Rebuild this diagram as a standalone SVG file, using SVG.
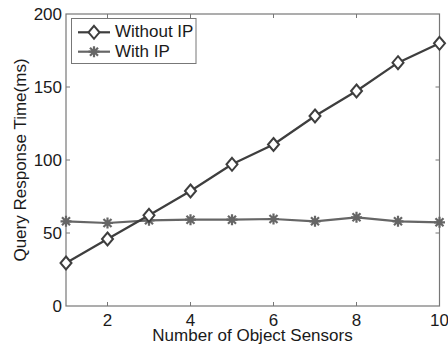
<svg xmlns="http://www.w3.org/2000/svg" width="448" height="346" viewBox="0 0 448 346">
<style>
text{font-family:"Liberation Sans",Arial,sans-serif;font-size:17px;fill:#1a1a1a}
.ax{fill:none;stroke:#777;stroke-width:1.2}
.tk{stroke:#777;stroke-width:1}
.l1{fill:none;stroke:#3e3e3e;stroke-width:2.2;stroke-linejoin:round}
.l2{fill:none;stroke:#666;stroke-width:2.2;stroke-linejoin:round}
.dm{fill:#fff;stroke:#3e3e3e;stroke-width:2}
.st{stroke:#666;stroke-width:2.2}
</style>
<defs>
<path id="dia" class="dm" d="M0,-6.5 L5.5,0 L0,6.5 L-5.5,0 Z"/>
<path id="star" class="st" d="M-5.5,0H5.5M0,-5.5V5.5M-4,-4L4,4M-4,4L4,-4"/>
</defs>
<rect x="0" y="0" width="448" height="346" fill="#fff"/>
<g id="axes">
<rect class="ax" x="66" y="14" width="373.5" height="292"/>
<g class="tk">
<path d="M107.5,306v-4M190.5,306v-4M273.5,306v-4M356.5,306v-4M107.5,14v4M190.5,14v4M273.5,14v4M356.5,14v4"/>
<path d="M66,233h4M66,160h4M66,87h4M439.5,233h-4M439.5,160h-4M439.5,87h-4"/>
</g>
</g>
<g id="ticklabels">
<text x="62" y="20" text-anchor="end">200</text>
<text x="62" y="93" text-anchor="end">150</text>
<text x="62" y="166" text-anchor="end">100</text>
<text x="62" y="239" text-anchor="end">50</text>
<text x="62" y="312" text-anchor="end">0</text>
<text x="107.5" y="326" text-anchor="middle">2</text>
<text x="190.5" y="326" text-anchor="middle">4</text>
<text x="273.5" y="326" text-anchor="middle">6</text>
<text x="356.5" y="326" text-anchor="middle">8</text>
<text x="439.5" y="326" text-anchor="middle">10</text>
</g>
<g id="axislabels">
<text x="252.5" y="341" text-anchor="middle">Number of Object Sensors</text>
<text transform="translate(26,160) rotate(-90)" text-anchor="middle">Query Response Time(ms)</text>
</g>
<g id="connectors">
<polyline id="with-ip" class="l2" points="66,221.3 107.5,223 149,220.3 190.5,219.7 232,219.7 273.5,219 315,221.3 356.5,217.3 398,221.3 439.5,222.3"/>
<polyline id="without-ip" class="l1" points="66,263 107.5,239 149,215.3 190.5,191 232,164.3 273.5,144.5 315,116 356.5,91 398,62.7 439.5,43.3"/>
</g>
<g id="markers-with-ip">
<use href="#star" x="66" y="221.3"/><use href="#star" x="107.5" y="223"/><use href="#star" x="149" y="220.3"/><use href="#star" x="190.5" y="219.7"/><use href="#star" x="232" y="219.7"/><use href="#star" x="273.5" y="219"/><use href="#star" x="315" y="221.3"/><use href="#star" x="356.5" y="217.3"/><use href="#star" x="398" y="221.3"/><use href="#star" x="439.5" y="222.3"/>
</g>
<g id="markers-without-ip">
<use href="#dia" x="66" y="263"/><use href="#dia" x="107.5" y="239"/><use href="#dia" x="149" y="215.3"/><use href="#dia" x="190.5" y="191"/><use href="#dia" x="232" y="164.3"/><use href="#dia" x="273.5" y="144.5"/><use href="#dia" x="315" y="116"/><use href="#dia" x="356.5" y="91"/><use href="#dia" x="398" y="62.7"/><use href="#dia" x="439.5" y="43.3"/>
</g>
<g id="legend">
<rect x="71.5" y="18.5" width="124.5" height="45" fill="#fff" stroke="#777" stroke-width="1"/>
<path class="l1" d="M78,32.3H110"/>
<use href="#dia" x="94" y="32.3"/>
<text x="115" y="37">Without IP</text>
<path class="l2" d="M78,51.7H110"/>
<use href="#star" x="94" y="51.7"/>
<text x="115" y="57">With IP</text>
</g>
</svg>
